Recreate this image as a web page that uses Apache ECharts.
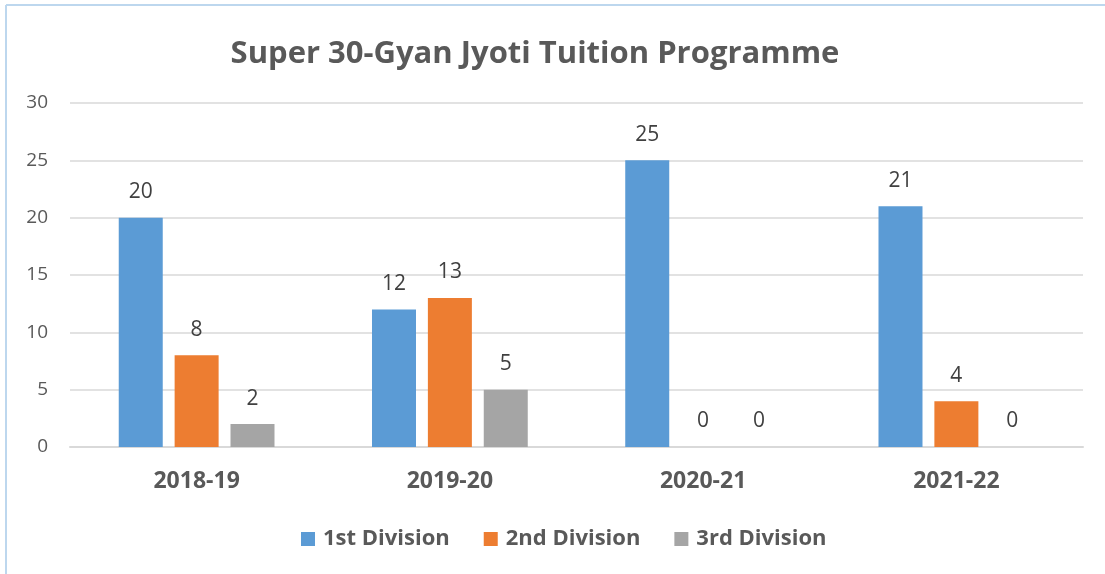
<!DOCTYPE html>
<html>
<head>
<meta charset="utf-8">
<script src="https://cdn.jsdelivr.net/npm/echarts@6/dist/echarts.min.js"></script>
<style>
html,body{margin:0;padding:0;background:#fff;}
#main{width:1105px;height:574px;}
</style>
</head>
<body>
<div id="main"></div>
<script>
// data
var years = ['2018-19', '2019-20', '2020-21', '2021-22'];
var firstDiv = [20, 12, 25, 21];
var secondDiv = [8, 13, 0, 4];
var thirdDiv = [2, 5, 0, 0];
var seriesNames = ['1st Division', '2nd Division', '3rd Division'];
var colors = ['#5b9bd5', '#ed7d31', '#a5a5a5'];

var font = "'Open Sans', 'Liberation Sans', sans-serif";

function makeSeries(name, data, color){
	return {
		name: name,
		type: 'bar',
		data: data,
		barWidth: 44,
		barGap: '27%',
		itemStyle: {color: color},
		label: {show: true, position: 'top', distance: 15, color: '#404040', fontSize: 21, fontFamily: font}
	};
}

var chart = echarts.init(document.getElementById('main'));
var option = {
	animation: false,
	color: colors,
	title: {
		text: 'Super 30-Gyan Jyoti Tuition Programme',
		left: 530, top: 34, textAlign: 'center',
		textStyle: {fontSize: 31, fontWeight: 'bold', color: '#595959', fontFamily: font}
	},
	legend: {
		data: seriesNames,
		bottom: 19, left: 296,
		itemWidth: 14, itemHeight: 14, itemGap: 34,
		icon: 'rect',
		textStyle: {fontSize: 22, fontWeight: 'bold', color: '#595959', fontFamily: font, padding: [0, 0, 0, 3]}
	},
	grid: {left: 70, right: 22, top: 103, bottom: 127, containLabel: false},
	xAxis: {
		type: 'category',
		data: years,
		axisLine: {lineStyle: {color: '#d9d9d9', width: 2}},
		axisTick: {show: false},
		axisLabel: {fontSize: 23, fontWeight: 'bold', color: '#595959', margin: 23, fontFamily: font}
	},
	yAxis: {
		type: 'value',
		min: 0, max: 30, interval: 5,
		axisLine: {show: false},
		axisTick: {show: false},
		axisLabel: {fontSize: 19, color: '#595959', margin: 22, fontFamily: font},
		splitLine: {lineStyle: {color: '#d9d9d9', width: 1.5}}
	},
	graphic: [
		{type: 'line', shape: {x1: 6, y1: 5, x2: 1105, y2: 5}, style: {stroke: '#bdd7ee', lineWidth: 2}},
		{type: 'line', shape: {x1: 6, y1: 5, x2: 6, y2: 574}, style: {stroke: '#bdd7ee', lineWidth: 2}}
	],
	series: [
		makeSeries(seriesNames[0], firstDiv, colors[0]),
		makeSeries(seriesNames[1], secondDiv, colors[1]),
		makeSeries(seriesNames[2], thirdDiv, colors[2])
	]
};
chart.setOption(option);
</script>
</body>
</html>
